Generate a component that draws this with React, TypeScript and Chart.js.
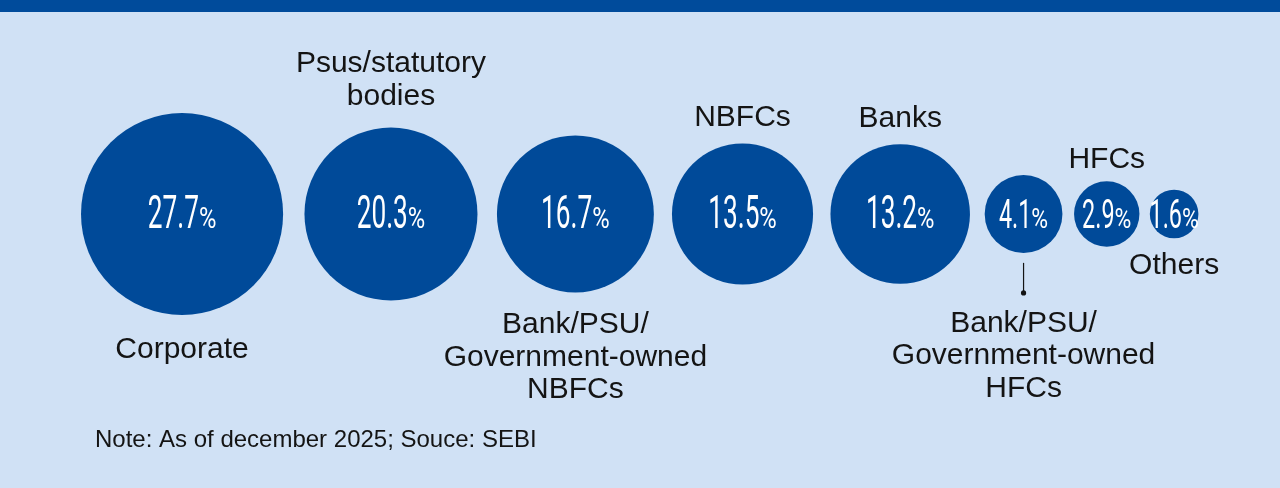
import React, { useEffect, useRef } from "react";
import { Chart, registerables } from "chart.js";

Chart.register(...registerables);

// ---- data ----
const categories = [
  "Corporate",
  "Psus/statutory bodies",
  "Bank/PSU/Government-owned NBFCs",
  "NBFCs",
  "Banks",
  "Bank/PSU/Government-owned HFCs",
  "HFCs",
  "Others",
];
const labelLines = [
  ["Corporate"],
  ["Psus/statutory", "bodies"],
  ["Bank/PSU/", "Government-owned", "NBFCs"],
  ["NBFCs"],
  ["Banks"],
  ["Bank/PSU/", "Government-owned", "HFCs"],
  ["HFCs"],
  ["Others"],
];
const shares = [27.7, 20.3, 16.7, 13.5, 13.2, 4.1, 2.9, 1.6];
const labelSide = ["below", "above", "below", "above", "above", "leader", "above", "below"];
const note = "Note: As of december 2025; Souce: SEBI";

// ---- layout / style ----
const W = 1280;
const H = 488;
const BG = "#d0e1f5";
const BAND = "#004b9b";
const BUBBLE = "#004a99";
const TEXT = "#141414";
const PX_PER_SQRT = 19.2; // bubble area proportional to share
const ROW_Y = 214;
const LEFT_EDGE = 81;

const radii = shares.map((v) => PX_PER_SQRT * Math.sqrt(v));
const centers: number[] = [];
{
  let cur = LEFT_EDGE;
  radii.forEach((r, i) => {
    if (i > 0) cur += 5.6 + 0.084 * (radii[i - 1] + r);
    centers.push(cur + r);
    cur += 2 * r;
  });
}

const bgPlugin = {
  id: "bg",
  beforeDraw(chart: any) {
    const ctx = chart.ctx;
    ctx.save();
    ctx.fillStyle = BG;
    ctx.fillRect(0, 0, W, H);
    ctx.fillStyle = BAND;
    ctx.fillRect(0, 0, W, 12);
    ctx.restore();
  },
};

function drawPct(ctx: CanvasRenderingContext2D, cx: number, baseline: number, value: number, big: boolean) {
  const numStr = value.toFixed(1);
  const sx = 0.57;
  const numFont = `400 ${big ? 46 : 41}px Roboto`;
  const pctFont = `400 ${big ? 29 : 28}px Roboto`;
  ctx.font = numFont;
  const wNum = ctx.measureText(numStr).width * sx;
  ctx.font = pctFont;
  const pSx = 0.82;
  const wPct = ctx.measureText("%").width * pSx;
  const total = wNum + wPct;
  const x0 = cx - total / 2;
  ctx.fillStyle = "#ffffff";
  ctx.textAlign = "left";
  ctx.textBaseline = "alphabetic";
  ctx.save();
  ctx.translate(x0, baseline);
  ctx.scale(sx, 1);
  ctx.font = numFont;
  ctx.fillText(numStr, 0, 0);
  ctx.restore();
  ctx.save();
  ctx.translate(x0 + wNum, baseline);
  ctx.scale(pSx, 1);
  ctx.font = pctFont;
  ctx.fillText("%", 0, 0);
  ctx.restore();
}

const labelPlugin = {
  id: "labels",
  afterDatasetsDraw(chart: any) {
    const ctx: CanvasRenderingContext2D = chart.ctx;
    const meta = chart.getDatasetMeta(0);
    const LH = 32.5;
    const CAP = 21;
    ctx.save();
    meta.data.forEach((el: any, i: number) => {
      const cx = el.x;
      const cy = el.y;
      const r = el.options.radius;
      drawPct(ctx, cx, cy + 14, shares[i], r > 50);

      ctx.fillStyle = TEXT;
      ctx.strokeStyle = TEXT;
      ctx.font = "400 30px 'Liberation Sans', Arial, sans-serif";
      ctx.textAlign = "center";
      ctx.textBaseline = "alphabetic";
      const lines = labelLines[i];
      const side = labelSide[i];
      if (side === "above") {
        const last = cy - r - (10 + 0.1 * r) - (lines.length > 1 ? 4 : 0);
        lines.forEach((t, k) => {
          ctx.fillText(t, cx, last - (lines.length - 1 - k) * LH);
        });
      } else if (side === "below") {
        const first = cy + r + (12 + 0.1 * r) + CAP;
        lines.forEach((t, k) => ctx.fillText(t, cx, first + k * LH));
      } else {
        const bottom = cy + r;
        ctx.lineWidth = 1.2;
        ctx.beginPath();
        ctx.moveTo(cx, bottom + 10);
        ctx.lineTo(cx, bottom + 40);
        ctx.stroke();
        ctx.beginPath();
        ctx.arc(cx, bottom + 40, 2.6, 0, Math.PI * 2);
        ctx.fill();
        const first = bottom + 60 + 19;
        lines.forEach((t, k) => ctx.fillText(t, cx, first + k * LH));
      }
    });

    ctx.fillStyle = TEXT;
    ctx.textAlign = "left";
    ctx.font = "400 24px 'Liberation Sans', Arial, sans-serif";
    ctx.fillText(note, 95, 447);
    ctx.restore();
  },
};

export default function App() {
  const ref = useRef<HTMLCanvasElement>(null);
  useEffect(() => {
    document.body.style.margin = "0";
    const chart = new Chart(ref.current!, {
      type: "bubble",
      data: {
        labels: categories,
        datasets: [
          {
            label: "Share",
            data: shares.map((v, i) => ({ x: centers[i], y: ROW_Y, r: radii[i] })),
            backgroundColor: BUBBLE,
            borderWidth: 0,
            hoverRadius: 0,
            clip: false as any,
          },
        ],
      },
      options: {
        responsive: false,
        devicePixelRatio: 1,
        animation: false,
        events: [],
        layout: { padding: 0, autoPadding: false },
        scales: {
          x: { type: "linear", min: 0, max: W, display: false },
          y: { type: "linear", min: 0, max: H, reverse: true, display: false },
        },
        plugins: {
          legend: { display: false },
          tooltip: { enabled: false },
        },
      },
      plugins: [bgPlugin, labelPlugin],
    });
    return () => chart.destroy();
  }, []);
  return (
    <div style={{ width: W, height: H }}>
      <canvas ref={ref} width={W} height={H} style={{ display: "block" }} />
    </div>
  );
}
